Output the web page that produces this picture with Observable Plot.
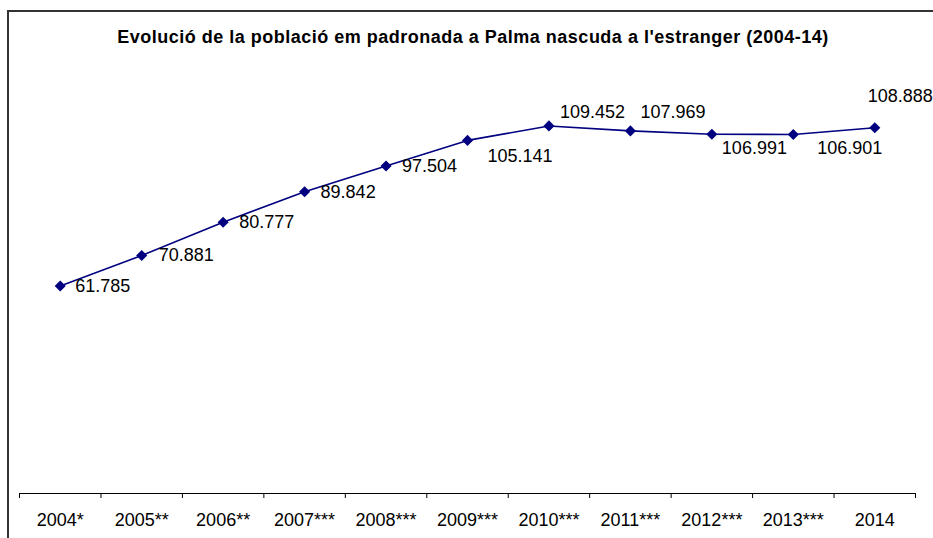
<!DOCTYPE html>
<html>
<head>
<meta charset="utf-8">
<script src="https://cdn.jsdelivr.net/npm/d3@7"></script>
<script src="https://cdn.jsdelivr.net/npm/@observablehq/plot@0.6"></script>
<style>
  html, body { margin: 0; padding: 0; background: #fff; overflow: hidden; }
  #wrap { position: relative; width: 933px; height: 538px; overflow: hidden; font-family: "Liberation Sans", Arial, sans-serif; background: #fff; }
  #wrap svg { position: absolute; left: 0; top: 0; background: transparent; }
  #frame { position: absolute; left: 7px; top: 10px; width: 1000px; height: 600px; border-left: 2px solid #333; border-top: 2px solid #333; z-index: 2; }
  #title { position: absolute; left: 0; width: 946px; top: 28px; line-height: 18px; text-align: center; font-weight: bold; font-size: 18px; letter-spacing: 0.5px; white-space: nowrap; color: #000; z-index: 3; }
</style>
</head>
<body>
<div id="wrap"></div>
<script>
const titleText = "Evolució de la població em padronada a Palma nascuda a l'estranger (2004-14)";
const categories = ["2004*", "2005**", "2006**", "2007***", "2008***", "2009***", "2010***", "2011***", "2012***", "2013***", "2014"];
const values = [61785, 70881, 80777, 89842, 97504, 105141, 109452, 107969, 106991, 106901, 108888];

const rows = categories.map((c, i) => ({i, cat: c, v: values[i]}));
const fmt = d3.formatLocale({decimal: ",", thousands: ".", grouping: [3], currency: ["", ""]}).format(",d");

// label placement (pixel offsets from each point), as in the reference
const labelShift = {
  "2004*": [15, 0], "2005**": [17, 0], "2006**": [16, 0], "2007***": [16, 0],
  "2008***": [16, 0], "2009***": [20, 16], "2010***": [11, -14], "2011***": [10, -19],
  "2012***": [10, 14], "2013***": [24, 14], "2014": [-7, -32]
};

const navy = "#000080";
const boundaries = d3.range(categories.length + 1).map(k => k - 0.5);

const chart = Plot.plot({
  width: 933,
  height: 538,
  marginLeft: 19,
  marginRight: 18,
  marginTop: 90,
  marginBottom: 45,
  style: {fontFamily: "'Liberation Sans', Arial, sans-serif", background: "transparent", color: "#000"},
  x: {type: "linear", domain: [-0.5, categories.length - 0.5], axis: null, label: null},
  y: {domain: [0, 120000], axis: null, label: null},
  marks: [
    Plot.ruleY([0], {stroke: "#000", strokeWidth: 1}),
    Plot.axisX({ticks: boundaries, tickSize: 5, tickFormat: () => "", stroke: "#000", label: null}),
    Plot.axisX({ticks: d3.range(categories.length), tickSize: 0, tickPadding: 20, tickFormat: i => categories[i], fontSize: 18, fill: "#000", label: null}),
    Plot.line(rows, {x: "i", y: "v", stroke: navy, strokeWidth: 1.6}),
    Plot.dot(rows, {x: "i", y: "v", symbol: "diamond2", r: 5, fill: navy, stroke: "none"}),
    ...rows.map(d => Plot.text([d], {
      x: "i", y: "v", text: r => fmt(r.v),
      dx: labelShift[d.cat][0], dy: labelShift[d.cat][1],
      textAnchor: "start", fontSize: 18, fill: "#000"
    }))
  ]
});

const wrap = document.getElementById("wrap");
wrap.appendChild(chart);
const frame = document.createElement("div");
frame.id = "frame";
wrap.appendChild(frame);
const title = document.createElement("div");
title.id = "title";
title.textContent = titleText;
wrap.appendChild(title);
</script>
</body>
</html>
